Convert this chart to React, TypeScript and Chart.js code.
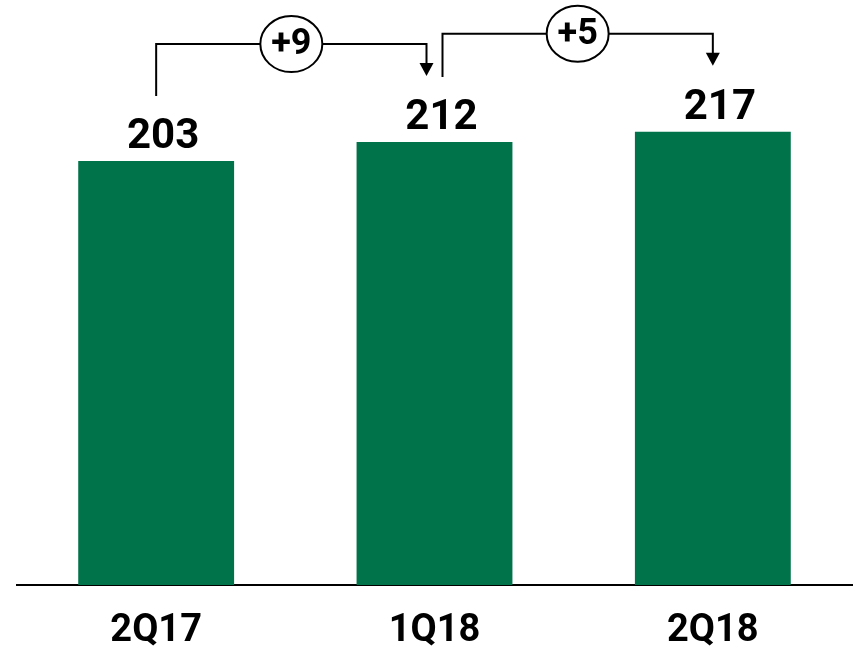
import React, { useEffect, useRef } from "react";
import { Chart, registerables } from "chart.js";

Chart.register(...registerables);

const categories = ["2Q17", "1Q18", "2Q18"];
const values = [203, 212, 217];
const deltaLabels = ["+9", "+5"];
const barColor = "#01734B";
const FONT = "Roboto, 'Liberation Sans', sans-serif";

const annotPlugin = {
  id: "annot",
  afterDatasetsDraw(chart: any) {
    const ctx = chart.ctx;
    const meta = chart.getDatasetMeta(0);
    const bars = meta.data;
    ctx.save();
    ctx.fillStyle = "#000";
    ctx.font = `bold 42px ${FONT}`;
    ctx.textAlign = "center";
    ctx.textBaseline = "alphabetic";
    bars.forEach((b: any, i: number) => {
      ctx.fillText(String(values[i]), b.x + 7, b.y - 13);
    });
    ctx.strokeStyle = "#000";
    ctx.lineWidth = 2;
    for (let i = 0; i < bars.length - 1; i++) {
      const a = bars[i];
      const c = bars[i + 1];
      const startX = i === 0 ? a.x : a.x + 8;
      const endX = i === 0 ? c.x - 8 : c.x;
      const startY = a.y - 65;
      const tipY = c.y - 66;
      const topY = Math.min(a.y, c.y) - 98;
      ctx.beginPath();
      ctx.moveTo(startX, startY);
      ctx.lineTo(startX, topY);
      ctx.lineTo(endX, topY);
      ctx.lineTo(endX, tipY - 12);
      ctx.stroke();
      ctx.beginPath();
      ctx.moveTo(endX - 7, tipY - 13);
      ctx.lineTo(endX + 7, tipY - 13);
      ctx.lineTo(endX, tipY);
      ctx.closePath();
      ctx.fillStyle = "#000";
      ctx.fill();
      const midX = (startX + endX) / 2;
      ctx.beginPath();
      ctx.ellipse(midX, topY, 31, 28, 0, 0, Math.PI * 2);
      ctx.fillStyle = "#fff";
      ctx.fill();
      ctx.stroke();
      ctx.fillStyle = "#000";
      ctx.font = `bold 36px ${FONT}`;
      ctx.textBaseline = "middle";
      ctx.fillText(deltaLabels[i], midX, topY + 1);
      ctx.textBaseline = "alphabetic";
    }
    ctx.restore();
  },
};

export default function App() {
  const ref = useRef<HTMLCanvasElement>(null);
  useEffect(() => {
    document.body.style.margin = "0";
    const chart = new Chart(ref.current!, {
      type: "bar",
      data: {
        labels: categories,
        datasets: [
          {
            data: values,
            backgroundColor: barColor,
            barPercentage: 0.7,
            categoryPercentage: 0.8,
          },
        ],
      },
      options: {
        responsive: false,
        animation: false,
        layout: { padding: { left: 17, right: 8, top: 0, bottom: 0 } },
        plugins: { legend: { display: false }, tooltip: { enabled: false } },
        scales: {
          x: {
            grid: { display: false, drawTicks: false },
            border: { display: true, color: "#000", width: 2 },
            ticks: {
              color: "#000",
              padding: 24,
              maxRotation: 0,
              font: { family: FONT, size: 38, weight: "bold" },
            },
            afterFit(scale: any) {
              scale.height = 61;
            },
          },
          y: {
            display: false,
            min: 0,
            max: 280,
          },
        },
      },
      plugins: [annotPlugin],
    });
    return () => chart.destroy();
  }, []);
  return <canvas ref={ref} width={860} height={646} />;
}
